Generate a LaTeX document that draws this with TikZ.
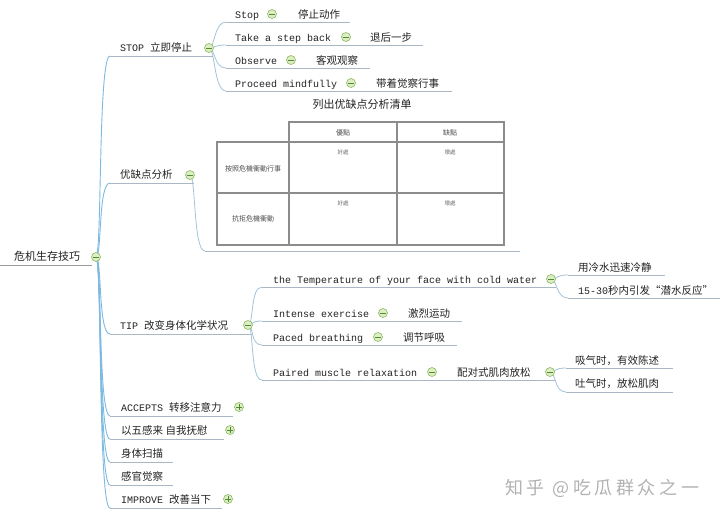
\documentclass[tikz,border=0pt]{standalone}
\usepackage{fontspec}
\setmainfont{Liberation Mono}
\newfontfamily\cjk{Noto Sans CJK SC}
\newfontfamily\cjkwide[LetterSpace=20]{Noto Sans CJK SC}
\usetikzlibrary{calc, backgrounds}
\definecolor{trunkc}{HTML}{7DB9E0}
\definecolor{twigc}{HTML}{A3C4D8}
\definecolor{ulc}{HTML}{A9B8C4}
\definecolor{icedge}{HTML}{8CBA5E}
\definecolor{icfill}{HTML}{DDEDC4}
\definecolor{icmark}{HTML}{4F8A35}
\definecolor{txtc}{HTML}{222222}
\definecolor{gridc}{HTML}{8C8C8C}
\newcommand\zh[1]{{\cjk\fontsize{10.5}{12}\selectfont #1}}

\begin{document}
\begin{tikzpicture}[x=1pt, y=-1pt,
  en/.style={anchor=base west, inner sep=0pt, text=txtc, font=\fontsize{10}{12}\selectfont},
  cn/.style={en, font=\cjk\fontsize{10.5}{12}\selectfont},
  icm/.style={circle, draw=icedge, fill=icfill, line width=0.6pt, minimum size=9pt, inner sep=0pt,
              path picture={\draw[icmark, line width=0.8pt]
                ([xshift=-2.6pt]path picture bounding box.center) -- ([xshift=2.6pt]path picture bounding box.center);}},
  icp/.style={icm, path picture={\draw[icmark, line width=0.8pt]
                ([xshift=-2.6pt]path picture bounding box.center) -- ([xshift=2.6pt]path picture bounding box.center)
                ([yshift=-2.6pt]path picture bounding box.center) -- ([yshift=2.6pt]path picture bounding box.center);}},
  ul/.style={draw=ulc, line width=0.8pt},
  trunk/.style={draw=trunkc, line width=0.9pt},
  twigl/.style={draw=twigc, line width=0.8pt},
  twig/.style={to path={.. controls ($(\tikztostart)+(6,0)$) and ($(\tikztotarget)+(-12,0)$) .. (\tikztotarget)}},
  grid/.style={draw=gridc, line width=1.6pt, line cap=rect},
  tbh/.style={inner sep=0pt, text=black!70, font=\cjk\fontsize{7}{8}\selectfont},
  tbc/.style={inner sep=0pt, text=black!60, font=\cjk\fontsize{5.5}{6}\selectfont}
]
\useasboundingbox (0,0) rectangle (720,515);

% ---------------------------------------------- root
\node[cn, font=\cjk\fontsize{11}{12}\selectfont] (root) at (14,260) {危机生存技巧};
\node[icm] (rootm) at (96,257) {};
\coordinate (rootL) at (0,265);
\coordinate (rootR) at (92,265);

% ---------------------------------------------- STOP
\node[en] (stop) at (120,51) {STOP \zh{立即停止}};
\node[icm] (stopm) at (209,48) {};
\coordinate (stopL) at (110,56);
\coordinate (stopR) at (213,56);

\node[en] (s1) at (235,18) {Stop};
\node[icm] (s1m) at (272,14) {};
\node[cn] (s1z) at (298,18) {停止动作};
\coordinate (s1L) at (226,22);
\coordinate (s1R) at (350,22);

\node[en] (s2) at (235,41) {Take a step back};
\node[icm] (s2m) at (346,37) {};
\node[cn] (s2z) at (370,41) {退后一步};
\coordinate (s2L) at (226,45);
\coordinate (s2R) at (423,45);

\node[en] (s3) at (235,64) {Observe};
\node[icm] (s3m) at (291,60) {};
\node[cn] (s3z) at (316,64) {客观观察};
\coordinate (s3L) at (226,68);
\coordinate (s3R) at (370,68);

\node[en] (s4) at (235,87) {Proceed mindfully};
\node[icm] (s4m) at (351,83) {};
\node[cn] (s4z) at (376,87) {带着觉察行事};
\coordinate (s4L) at (226,91);
\coordinate (s4R) at (452,91);

% ---------------------------------------------- pros and cons
\node[cn] (pros) at (120,178) {优缺点分析};
\node[icm] (prosm) at (190,175) {};
\coordinate (prosL) at (110,183);
\coordinate (prosR) at (194,183);

\node[cn, anchor=center, font=\cjk\fontsize{11}{12}\selectfont] (tabtitle) at (362,104) {列出优缺点分析清单};
\draw[grid] (289,122) -- (504,122);
\draw[grid] (217,142) -- (504,142);
\draw[grid] (217,193) -- (504,193);
\draw[grid] (217,245) -- (504,245);
\draw[grid] (217,142) -- (217,245);
\draw[grid] (289,122) -- (289,245);
\draw[grid] (397,122) -- (397,245);
\draw[grid] (504,122) -- (504,245);
\node[tbh] (hpro) at (343,133) {優點};
\node[tbh] (hcon) at (450,133) {缺點};
\node[tbh] (ract) at (253,169) {按照危機衝動行事};
\node[tbh] (rres) at (253,219) {抗拒危機衝動};
\node[tbc] (c11) at (343,152) {好處};
\node[tbc] (c12) at (450,152) {壞處};
\node[tbc] (c21) at (343,203) {好處};
\node[tbc] (c22) at (450,203) {壞處};
\coordinate (tabL) at (205,251);
\coordinate (tabR) at (520,251);

% ---------------------------------------------- TIP
\node[en] (tip) at (120,329) {TIP \zh{改变身体化学状况}};
\node[icm] (tipm) at (248,325) {};
\coordinate (tipL) at (110,334);
\coordinate (tipR) at (252,334);

\node[en] (temp) at (273,283) {the Temperature of your face with cold water};
\node[icm] (tempm) at (551,279) {};
\coordinate (tempL) at (262,287);
\coordinate (tempR) at (556,287);

\node[cn] (cold) at (578,271) {用冷水迅速冷静};
\coordinate (coldL) at (568,275);
\coordinate (coldR) at (665,275);
\node[en] (dive) at (578,294) {15-30\zh{秒内引发“潜水反应”}};
\coordinate (diveL) at (568,298);
\coordinate (diveR) at (720,298);

\node[en] (ex) at (273,317) {Intense exercise};
\node[icm] (exm) at (383,313) {};
\node[cn] (exz) at (408,317) {激烈运动};
\coordinate (exL) at (262,321);
\coordinate (exR) at (462,321);

\node[en] (br) at (273,341) {Paced breathing};
\node[icm] (brm) at (378,337) {};
\node[cn] (brz) at (403,341) {调节呼吸};
\coordinate (brL) at (262,345);
\coordinate (brR) at (457,345);

\node[en] (pm) at (273,376) {Paired muscle relaxation};
\node[icm] (pmm) at (432,372) {};
\node[cn] (pmz) at (457,376) {配对式肌肉放松};
\node[icm] (pmzm) at (550,372) {};
\coordinate (pmL) at (262,380);
\coordinate (pmR) at (555,380);

\node[cn] (inh) at (575,364) {吸气时，有效陈述};
\coordinate (inhL) at (566,368);
\coordinate (inhR) at (673,368);
\node[cn] (exh) at (575,387) {吐气时，放松肌肉};
\coordinate (exhL) at (566,392);
\coordinate (exhR) at (673,392);

% ---------------------------------------------- collapsed branches
\node[en] (acc) at (121,411) {ACCEPTS \zh{转移注意力}};
\node[icp] (accm) at (239,407) {};
\coordinate (accL) at (110,416);
\coordinate (accR) at (233,416);

\node[cn] (five) at (121,434) {以五感来 自我抚慰};
\node[icp] (fivem) at (230,430) {};
\coordinate (fiveL) at (110,439);
\coordinate (fiveR) at (224,439);

\node[cn] (scan) at (121,457) {身体扫描};
\coordinate (scanL) at (110,462);
\coordinate (scanR) at (173,462);

\node[cn] (sense) at (121,480) {感官觉察};
\coordinate (senseL) at (110,485);
\coordinate (senseR) at (173,485);

\node[en] (imp) at (121,503) {IMPROVE \zh{改善当下}};
\node[icp] (impm) at (228,499) {};
\coordinate (impL) at (110,508);
\coordinate (impR) at (222,508);

% ---------------------------------------------- watermark
\node[cn, text=black!30, font=\cjkwide\fontsize{18}{20}\selectfont] (wm) at (505,494) {知乎 @吃瓜群众之一};

% ---------------------------------------------- lines
\begin{scope}[on background layer]
\draw[draw=black!40, line width=0.8pt] (rootL) -- (rootR);

\draw[trunk] (rootm.center) to[twig] (stopL);
\draw[trunk] (rootm.center) to[twig] (prosL);
\draw[trunk] (rootm.center) to[twig] (tipL);
\draw[trunk] (rootm.center) to[twig] (accL);
\draw[trunk] (rootm.center) to[twig] (fiveL);
\draw[trunk] (rootm.center) to[twig] (scanL);
\draw[trunk] (rootm.center) to[twig] (senseL);
\draw[trunk] (rootm.center) to[twig] (impL);

\draw[ul] (stopL) -- (stopR);
\draw[ul] (prosL) -- (prosR);
\draw[ul] (tipL) -- (tipR);
\draw[ul] (accL) -- (accR);
\draw[ul] (fiveL) -- (fiveR);
\draw[ul] (scanL) -- (scanR);
\draw[ul] (senseL) -- (senseR);
\draw[ul] (impL) -- (impR);

\draw[twigl] (stopm.center) to[twig] (s1L);
\draw[twigl] (stopm.center) to[twig] (s2L);
\draw[twigl] (stopm.center) to[twig] (s3L);
\draw[twigl] (stopm.center) to[twig] (s4L);
\draw[ul] (s1L) -- (s1R);
\draw[ul] (s2L) -- (s2R);
\draw[ul] (s3L) -- (s3R);
\draw[ul] (s4L) -- (s4R);

\draw[twigl] (prosm.center) to[twig] (tabL);
\draw[ul] (tabL) -- (tabR);

\draw[twigl] (tipm.center) to[twig] (tempL);
\draw[twigl] (tipm.center) to[twig] (exL);
\draw[twigl] (tipm.center) to[twig] (brL);
\draw[twigl] (tipm.center) to[twig] (pmL);
\draw[ul] (tempL) -- (tempR);
\draw[ul] (exL) -- (exR);
\draw[ul] (brL) -- (brR);
\draw[ul] (pmL) -- (pmR);

\draw[twigl] (tempm.center) to[twig] (coldL);
\draw[twigl] (tempm.center) to[twig] (diveL);
\draw[ul] (coldL) -- (coldR);
\draw[ul] (diveL) -- (diveR);

\draw[twigl] (pmzm.center) to[twig] (inhL);
\draw[twigl] (pmzm.center) to[twig] (exhL);
\draw[ul] (inhL) -- (inhR);
\draw[ul] (exhL) -- (exhR);
\end{scope}

\end{tikzpicture}
\end{document}
